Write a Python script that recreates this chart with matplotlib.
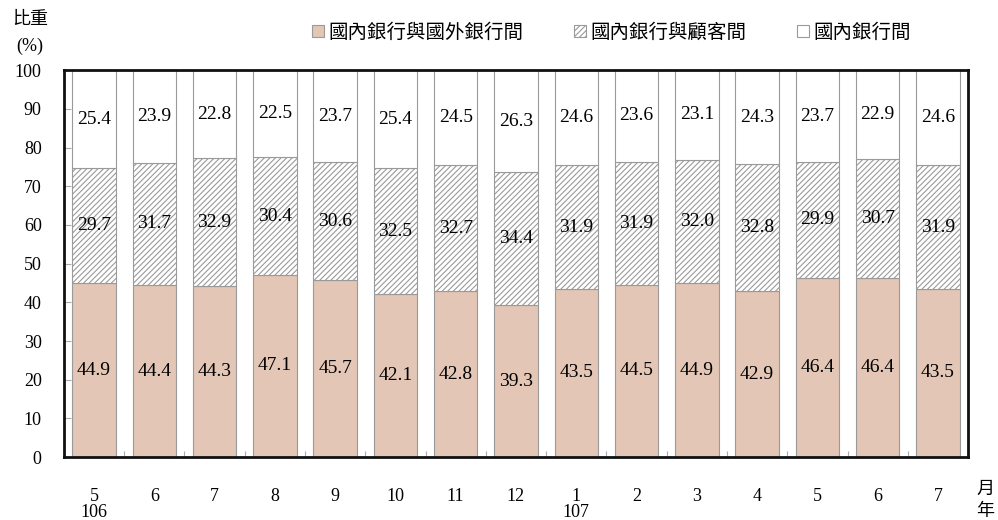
import matplotlib
matplotlib.use("Agg")
import matplotlib.pyplot as plt
import numpy as np
from matplotlib.patches import Patch

plt.rcParams['font.family'] = ['Liberation Serif', 'Noto Sans CJK TC']
plt.rcParams['hatch.linewidth'] = 0.8

months = ['5', '6', '7', '8', '9', '10', '11', '12', '1', '2', '3', '4', '5', '6', '7']
years = {0: '106', 8: '107'}
foreign = [44.9, 44.4, 44.3, 47.1, 45.7, 42.1, 42.8, 39.3, 43.5, 44.5, 44.9, 42.9, 46.4, 46.4, 43.5]
customer = [29.7, 31.7, 32.9, 30.4, 30.6, 32.5, 32.7, 34.4, 31.9, 31.9, 32.0, 32.8, 29.9, 30.7, 31.9]
interbank = [25.4, 23.9, 22.8, 22.5, 23.7, 25.4, 24.5, 26.3, 24.6, 23.6, 23.1, 24.3, 23.7, 22.9, 24.6]
series_names = ['國內銀行與國外銀行間', '國內銀行與顧客間', '國內銀行間']

fig = plt.figure(figsize=(9.98, 5.2), dpi=100)
ax = fig.add_axes([0.064, 0.121, 0.906, 0.744])

x = np.arange(len(months))
w = 0.72
f = np.array(foreign)
c = np.array(customer)
b = np.array(interbank)
edge = '#9a9a9a'
ax.bar(x, f, w, color='#e3c6b5', edgecolor=edge, linewidth=0.8)
ax.bar(x, c, w, bottom=f, color='white', edgecolor=edge, hatch='//////', linewidth=0.8)
ax.bar(x, b, w, bottom=f + c, color='white', edgecolor=edge, linewidth=0.8)

fs = 14
for i in range(len(x)):
    ax.text(x[i], f[i] / 2, f'{f[i]:.1f}', ha='center', va='center', fontsize=fs)
    ax.text(x[i], f[i] + c[i] / 2, f'{c[i]:.1f}', ha='center', va='center', fontsize=fs,
            bbox=dict(facecolor='none', edgecolor='none', pad=0))
    ax.text(x[i], f[i] + c[i] + b[i] / 2, f'{b[i]:.1f}', ha='center', va='center', fontsize=fs)

ax.set_xlim(-0.5, len(x) - 0.5)
ax.set_ylim(0, 100)
ax.set_yticks(range(0, 101, 10))
ax.set_xticks(x)
ax.set_xticklabels(months)
ax.set_xticks(np.arange(0.5, len(x) - 0.5, 1), minor=True)
ax.tick_params(axis='x', which='major', length=0, pad=22, labelsize=13)
ax.tick_params(axis='x', which='minor', direction='in', length=4, color='#aaaaaa', width=0.8)
ax.tick_params(axis='y', direction='in', length=5, color='#aaaaaa', width=0.8, labelsize=13, pad=16)
for t in ax.get_yticklabels():
    t.set_horizontalalignment('right')
for s in ax.spines.values():
    s.set_linewidth(2)
    s.set_color('#111111')

for i, yr in years.items():
    ax.text(x[i], -0.142, yr, transform=ax.get_xaxis_transform(), ha='center', va='center', fontsize=13)

fig.text(0.987, 0.058, '月', ha='center', va='center', fontsize=13)
fig.text(0.987, 0.016, '年', ha='center', va='center', fontsize=13)
fig.text(0.03, 0.962, '比重', ha='center', va='center', fontsize=13)
fig.text(0.03, 0.91, '(%)', ha='center', va='center', fontsize=13)

handles = [Patch(facecolor='#e3c6b5', edgecolor=edge, linewidth=0.8),
           Patch(facecolor='white', edgecolor=edge, hatch='//////', linewidth=0.8),
           Patch(facecolor='white', edgecolor=edge, linewidth=0.8)]
fig.legend(handles, series_names, loc='center', bbox_to_anchor=(0.613, 0.937), ncol=3,
           frameon=False, fontsize=14, handlelength=0.6, handleheight=0.6,
           handletextpad=0.25, columnspacing=2.6)

fig.savefig('out.png', dpi=100)
